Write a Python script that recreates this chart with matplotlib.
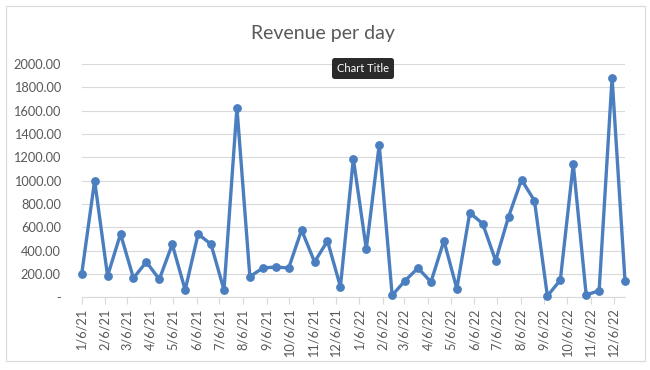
import matplotlib
matplotlib.use("Agg")
import matplotlib.pyplot as plt
import matplotlib.dates as mdates
from matplotlib.patches import Rectangle
import pandas as pd

dates = [
    "2021-01-06", "2021-01-23", "2021-02-09", "2021-02-26", "2021-03-15",
    "2021-04-01", "2021-04-18", "2021-05-05", "2021-05-22", "2021-06-08",
    "2021-06-25", "2021-07-12", "2021-07-29", "2021-08-15", "2021-09-01",
    "2021-09-18", "2021-10-05", "2021-10-22", "2021-11-08", "2021-11-25",
    "2021-12-12", "2021-12-29", "2022-01-15", "2022-02-01", "2022-02-18",
    "2022-03-07", "2022-03-24", "2022-04-10", "2022-04-27", "2022-05-14",
    "2022-05-31", "2022-06-17", "2022-07-04", "2022-07-21", "2022-08-07",
    "2022-08-24", "2022-09-10", "2022-09-27", "2022-10-14", "2022-10-31",
    "2022-11-17", "2022-12-04", "2022-12-21",
]
revenue = [
    200, 1000, 183, 543, 165, 303, 154, 454, 63, 543,
    454, 63, 1625, 177, 251, 260, 251, 577, 303, 483,
    91, 1188, 414, 1308, 17, 143, 251, 131, 485, 74,
    725, 631, 314, 691, 1008, 828, 11, 148, 1143, 20,
    57, 1882, 143,
]
tick_dates = [
    "2021-01-06", "2021-02-06", "2021-03-06", "2021-04-06", "2021-05-06",
    "2021-06-06", "2021-07-06", "2021-08-06", "2021-09-06", "2021-10-06",
    "2021-11-06", "2021-12-06", "2022-01-06", "2022-02-06", "2022-03-06",
    "2022-04-06", "2022-05-06", "2022-06-06", "2022-07-06", "2022-08-06",
    "2022-09-06", "2022-10-06", "2022-11-06", "2022-12-06",
]
tick_labels = [
    "1/6/21", "2/6/21", "3/6/21", "4/6/21", "5/6/21", "6/6/21", "7/6/21",
    "8/6/21", "9/6/21", "10/6/21", "11/6/21", "12/6/21", "1/6/22", "2/6/22",
    "3/6/22", "4/6/22", "5/6/22", "6/6/22", "7/6/22", "8/6/22", "9/6/22",
    "10/6/22", "11/6/22", "12/6/22",
]
y_ticks = [0, 200, 400, 600, 800, 1000, 1200, 1400, 1600, 1800, 2000]
y_labels = ["-", "200.00", "400.00", "600.00", "800.00", "1000.00", "1200.00",
            "1400.00", "1600.00", "1800.00", "2000.00"]
title = "Revenue per day"

plt.rcParams['font.family'] = ['Lato', 'DejaVu Sans']
text_color = "#595959"
grid_color = "#D9D9D9"
line_color = "#4A7EBF"

x = pd.to_datetime(dates)
xt = pd.to_datetime(tick_dates)

fig = plt.figure(figsize=(6.5, 3.7), dpi=100)
fig.patch.set_facecolor("white")
fig.add_artist(Rectangle((5.5 / 650, 1 - 360.5 / 370), 639 / 650, 355 / 370,
                         transform=fig.transFigure, fill=False,
                         edgecolor="#D9D9D9", linewidth=0.8))

ax = fig.add_axes([81.7 / 650, 1 - 297.3 / 370, (625 - 81.7) / 650, (297.3 - 64) / 370])
ax.plot(x, revenue, color=line_color, linewidth=2.4, marker="o",
        markersize=5.3, solid_joinstyle="round", zorder=3, clip_on=False)

ax.set_xlim(x[0], x[-1])
ax.set_ylim(0, 2000)
ax.set_yticks(y_ticks)
ax.set_yticklabels(y_labels)
ax.set_xticks(xt)
ax.set_xticklabels(tick_labels, rotation=90)

for s in ["top", "right", "left"]:
    ax.spines[s].set_visible(False)
ax.spines["bottom"].set_color(grid_color)
ax.spines["bottom"].set_linewidth(0.8)
ax.grid(axis="y", color=grid_color, linewidth=0.8)
ax.set_axisbelow(True)
ax.tick_params(axis="y", length=0, pad=15, labelsize=9.2, labelcolor=text_color)
ax.tick_params(axis="x", length=5, width=0.8, color=grid_color, pad=3,
               labelsize=9.2, labelcolor=text_color)

fig.text(0.497, 1 - 33 / 370, title, ha="center", va="center",
         fontsize=14, color=text_color)
fig.text(363 / 650, 1 - 68.5 / 370, "Chart Title", ha="center", va="center",
         fontsize=8, color="white",
         bbox=dict(boxstyle="round,pad=0.45,rounding_size=0.25",
                   facecolor="#2B2B2B", edgecolor="none"))

fig.savefig("out.png", dpi=100)
